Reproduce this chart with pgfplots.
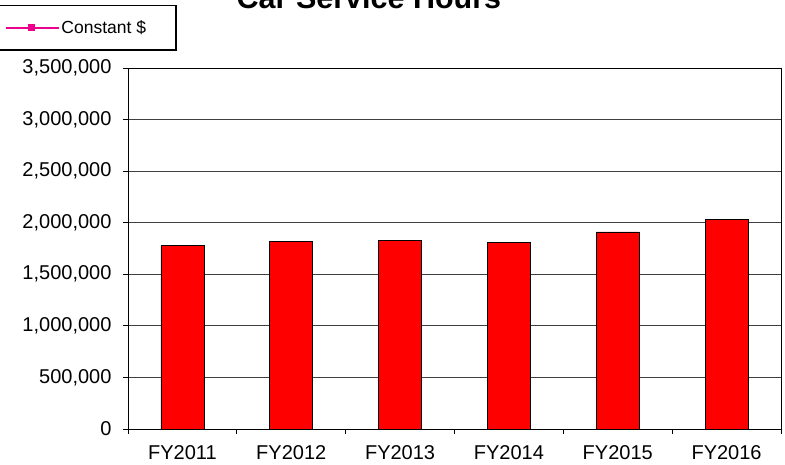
\documentclass[border=0pt]{standalone}
\usepackage{pgfplots}
\pgfplotsset{compat=1.18}
\usepackage{fontspec}
\setmainfont{Liberation Sans}
\begin{document}
\begin{tikzpicture}[x=1pt,y=1pt]
\useasboundingbox (0,0) rectangle (785,464);
\begin{axis}[
  at={(128pt,35pt)}, anchor=south west,
  width=653pt, height=361pt, scale only axis,
  xmin=-0.5, xmax=5.5,
  ymin=0, ymax=3500000,
  ytick={0,500000,...,3500000},
  scaled y ticks=false,
  /pgf/number format/.cd, fixed, 1000 sep={,}, assume math mode=true,
  /pgfplots/.cd,
  yticklabel style={font=\fontsize{20}{24}\selectfont, xshift=-8pt},
  xticklabel style={font=\fontsize{20}{24}\selectfont, yshift=-13pt},
  xtick={-0.5,0.5,...,5.5},
  xticklabels={},
  extra x ticks={0,1,2,3,4,5},
  extra x tick labels={FY2011,FY2012,FY2013,FY2014,FY2015,FY2016},
  extra x tick style={major tick length=0pt, grid=none},
  tick align=outside,
  tick pos=left,
  major tick length=5pt,
  ymajorgrids,
  grid style={black!75, line width=0.9pt},
  axis line style={black, line width=0.9pt},
  tick style={black, line width=0.9pt},
  title={\textbf{Car Service Hours}},
  title style={at={(axis description cs:0.369,1.148)}, anchor=base, font=\fontsize{30.5}{34}\selectfont},
  legend style={at={(axis description cs:-0.199,1.175)}, anchor=north west,
    draw=black, line width=1.3pt, inner xsep=6pt, inner ysep=13pt,
    font=\fontsize{17.5}{21}\selectfont, nodes={inner sep=2pt}},
  legend image code/.code={\draw[#1, draw=magenta, line width=1.8pt, mark repeat=2, mark phase=2] plot coordinates {(0pt,0pt) (26pt,0pt) (53pt,0pt)};},
]
\addplot[ybar, bar width=43pt, fill=red, draw=black, line width=0.6pt, forget plot]
  coordinates {(0,1777000) (1,1816000) (2,1826000) (3,1806000) (4,1910000) (5,2033000)};
\addlegendimage{draw=magenta, line width=1.8pt, mark=square*, mark size=2.8pt, mark options={solid, fill=magenta, draw=magenta}}
\addlegendentry{Constant \$\rule{22pt}{0pt}}
\end{axis}
\end{tikzpicture}
\end{document}
